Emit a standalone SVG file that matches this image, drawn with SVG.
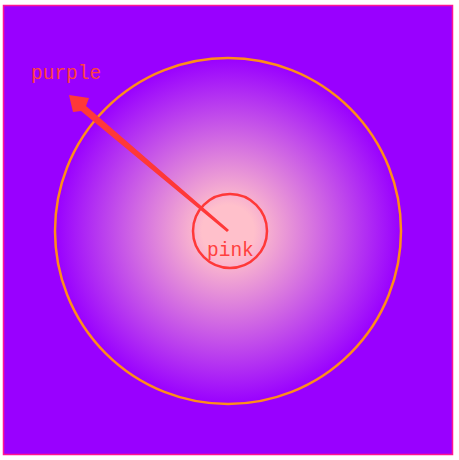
<svg xmlns="http://www.w3.org/2000/svg" width="459" height="460" viewBox="0 0 459 460">
<defs>
<radialGradient id="g" cx="228" cy="231" r="173" gradientUnits="userSpaceOnUse">
<stop offset="0" stop-color="#ffc0cb"/>
<stop offset="0.15" stop-color="#ffc0cb"/>
<stop offset="1" stop-color="#9900ff"/>
</radialGradient>
<style>
.lbl{font-family:"Liberation Mono","Courier New",monospace;font-size:19.5px;fill:#ff4040}
</style>
</defs>
<rect x="3.5" y="5.5" width="449" height="449" fill="#9900ff" stroke="#ff1493" stroke-width="1.5"/>
<g id="outer"><circle cx="228" cy="231" r="173" fill="url(#g)" stroke="#ff8c1a" stroke-width="2.5"/></g>
<g id="inner"><circle cx="230" cy="231" r="37" fill="none" stroke="#ff3838" stroke-width="2.5"/></g>
<g id="connectors">
<polygon points="227,232 229,230 86,106 89,98 69,95 73,112 81,111" fill="#ff3838"/>
</g>
<g id="purple"><text class="lbl" x="31" y="79">purple</text></g>
<g id="pink"><text class="lbl" x="207" y="256">pink</text></g>
</svg>
